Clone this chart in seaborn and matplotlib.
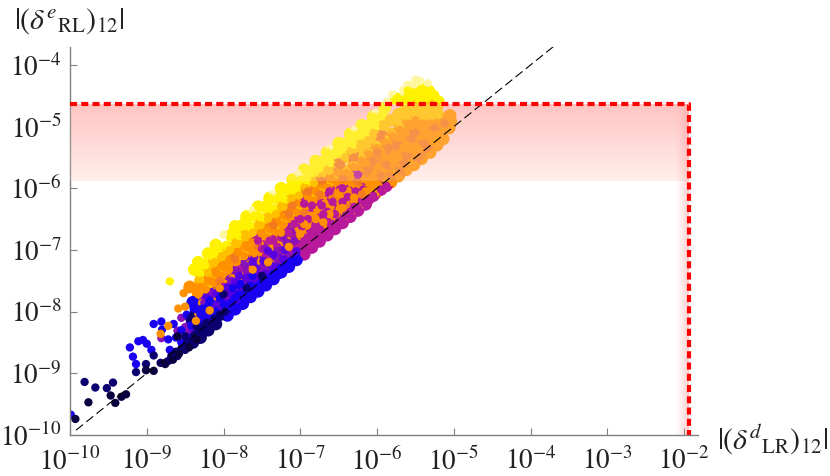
import numpy as np
import pandas as pd
import matplotlib
matplotlib.use("Agg")
import matplotlib.pyplot as plt
import seaborn as sns

# all points are (log10 x, log10 y)
pale_pts = [(-8.0,-6.75),(-7.62,-6.36),(-7.36,-6.1),(-7.02,-5.76),(-6.62,-5.36),(-6.3,-5.06),(-6.02,-4.78),
            (-5.87,-4.6),(-5.8,-4.48),(-5.66,-4.41),(-5.6,-4.32),(-5.52,-4.32),(-5.44,-4.26),(-5.34,-4.3),(-5.5,-4.24)]
yellow_pts = [(-8.7,-7.51),(-8.38,-7.32),(-8.33,-7.2),(-8.3,-7.38),(-8.24,-7.25),(-8.2,-7.06),(-8.14,-7.12),(-8.1,-6.92),
              (-8.05,-7.05),(-7.95,-6.95),(-7.9,-6.76),(-7.85,-6.62),(-7.8,-6.78),(-7.75,-6.6),(-7.7,-6.46),(-7.65,-6.64),
              (-7.6,-6.44),(-7.55,-6.3),(-7.5,-6.5),(-7.45,-6.3),(-7.4,-6.16),(-7.35,-6.36),(-7.3,-6.16),(-7.25,-6.0),
              (-7.2,-6.2),(-7.15,-6.02),(-7.1,-5.86),(-7.05,-6.05),(-7.0,-5.86),(-6.95,-5.7),(-6.9,-5.9),(-6.85,-5.72),
              (-6.8,-5.56),(-6.75,-5.75),(-6.7,-5.57),(-6.65,-5.42),(-6.6,-5.6),(-6.55,-5.42),(-6.5,-5.27),(-6.45,-5.46),
              (-6.4,-5.28),(-6.35,-5.12),(-6.3,-5.3),(-6.25,-5.12),(-6.2,-4.98),(-6.15,-5.17),(-6.1,-4.98),(-6.05,-4.84),
              (-6.0,-5.0),(-5.95,-4.82),(-5.9,-4.7),(-5.75,-4.55),(-5.65,-4.6),(-5.55,-4.55),(-5.45,-4.6),(-5.35,-4.55),
              (-5.27,-4.5),(-5.2,-4.6),(-5.6,-4.42),(-5.5,-4.45),(-5.4,-4.4),(-5.33,-4.42)]
gold_pts = [(-8.3,-7.5),(-8.28,-7.62),(-8.2,-7.38),(-8.18,-7.55),(-8.12,-7.2),(-8.1,-7.42),(-8.02,-7.1),(-8.0,-7.3),
            (-7.92,-7.0),(-7.9,-7.18),(-7.82,-6.9),(-7.8,-7.1),(-7.72,-6.78),(-7.7,-7.0),(-7.62,-6.72),(-7.6,-6.9),
            (-7.52,-6.6),(-7.5,-6.78),(-7.42,-6.5),(-7.4,-6.7),(-7.32,-6.42),(-7.3,-6.6),(-7.22,-6.3),(-7.2,-6.5),
            (-7.12,-6.2),(-7.1,-6.4),(-7.02,-6.12),(-7.0,-6.3),(-6.92,-6.0),(-6.9,-6.2),(-6.82,-5.92),(-6.8,-6.1),
            (-6.72,-5.8),(-6.7,-6.0),(-6.62,-5.72),(-6.6,-5.9),(-6.52,-5.62),(-6.5,-5.8),(-6.42,-5.5),(-6.4,-5.72),
            (-6.32,-5.42),(-6.3,-5.62),(-6.22,-5.32),(-6.2,-5.5),(-6.12,-5.22),(-6.1,-5.42),(-6.02,-5.12),(-6.0,-5.3),
            (-5.92,-5.0),(-5.9,-5.2),(-5.82,-4.9),(-5.8,-5.12),(-5.72,-4.8),(-5.7,-5.0),(-5.62,-4.72),(-5.6,-4.9),
            (-5.52,-4.66),(-5.5,-4.82),(-5.42,-4.7),(-5.4,-4.88),(-5.32,-4.66),(-5.3,-4.85),(-5.22,-4.68),(-5.2,-4.82)]
orange_pts = [(-8.52,-7.7),(-8.44,-7.6),(-8.59,-7.95),(-8.5,-7.92),(-8.33,-8.05),(-8.3,-7.6),(-8.33,-7.72),(-8.28,-7.86),
              (-8.2,-7.5),(-8.23,-7.64),(-8.18,-7.78),(-8.1,-7.38),(-8.13,-7.52),(-8.08,-7.68),(-8.11,-7.82),
              (-8.0,-7.28),(-8.03,-7.42),(-7.98,-7.55),(-8.01,-7.7),(-7.9,-7.18),(-7.93,-7.32),(-7.88,-7.46),(-7.91,-7.6),
              (-7.8,-7.06),(-7.83,-7.2),(-7.78,-7.36),(-7.81,-7.48),(-7.7,-6.96),(-7.73,-7.1),(-7.68,-7.24),(-7.71,-7.38),
              (-7.6,-6.88),(-7.63,-7.0),(-7.58,-7.15),(-7.61,-7.28),(-7.5,-6.76),(-7.53,-6.9),(-7.48,-7.05),(-7.51,-7.2),
              (-7.4,-6.66),(-7.43,-6.8),(-7.38,-6.95),(-7.41,-7.08),(-7.3,-6.55),(-7.33,-6.7),(-7.28,-6.85),(-7.31,-7.0),
              (-7.2,-6.46),(-7.23,-6.6),(-7.18,-6.75),(-7.21,-6.9),(-7.1,-6.36),(-7.13,-6.5),(-7.08,-6.65),(-7.11,-6.78),
              (-7.0,-6.25),(-7.03,-6.4),(-6.98,-6.55),(-7.01,-6.68),(-6.9,-6.15),(-6.93,-6.3),(-6.88,-6.45),(-6.91,-6.6),
              (-6.8,-6.05),(-6.83,-6.2),(-6.78,-6.35),(-6.81,-6.48),(-6.7,-5.95),(-6.73,-6.1),(-6.68,-6.25),(-6.71,-6.38),
              (-6.6,-5.85),(-6.63,-6.0),(-6.58,-6.15),(-6.61,-6.3),(-6.5,-5.75),(-6.53,-5.9),(-6.48,-6.05),(-6.51,-6.2),
              (-6.49,-6.35),(-6.52,-6.48),(-6.4,-5.75),(-6.43,-5.9),(-6.38,-6.05),(-6.41,-6.2),(-6.39,-6.35),(-6.42,-6.46),
              (-6.3,-5.65),(-6.33,-5.8),(-6.28,-5.95),(-6.31,-6.1),(-6.29,-6.25),(-6.32,-6.36),(-6.2,-5.55),(-6.23,-5.7),
              (-6.18,-5.85),(-6.21,-6.0),(-6.19,-6.15),(-6.22,-6.27),(-6.1,-5.45),(-6.13,-5.6),(-6.08,-5.75),(-6.11,-5.9),
              (-6.09,-6.05),(-6.12,-6.17),(-6.0,-5.35),(-6.03,-5.5),(-5.98,-5.65),(-6.01,-5.8),(-5.99,-5.95),(-6.02,-6.08),
              (-5.9,-5.25),(-5.93,-5.4),(-5.88,-5.55),(-5.91,-5.7),(-5.89,-5.85),(-5.92,-5.98),(-5.8,-5.15),(-5.83,-5.3),
              (-5.78,-5.45),(-5.81,-5.6),(-5.79,-5.75),(-5.82,-5.9),(-5.7,-5.05),(-5.73,-5.2),(-5.68,-5.35),(-5.71,-5.5),
              (-5.69,-5.65),(-5.72,-5.8),(-5.6,-4.95),(-5.63,-5.1),(-5.58,-5.25),(-5.61,-5.4),(-5.59,-5.55),(-5.62,-5.7),
              (-5.5,-4.9),(-5.53,-5.0),(-5.48,-5.15),(-5.51,-5.3),(-5.49,-5.45),(-5.52,-5.62),(-5.4,-4.95),(-5.43,-5.05),
              (-5.38,-5.2),(-5.41,-5.35),(-5.42,-5.52),(-5.3,-4.95),(-5.33,-5.1),(-5.28,-5.25),(-5.31,-5.42),(-5.2,-4.95),
              (-5.23,-5.1),(-5.22,-5.3),(-5.1,-4.88),(-5.13,-5.0),(-5.14,-5.2),(-5.04,-4.92),(-5.06,-5.02),(-5.05,-4.82)]
dark_orange_pts = [(-7.85,-7.15),(-7.55,-6.95),(-7.35,-6.6),(-7.15,-6.42),(-6.95,-6.4),(-6.75,-6.1),(-6.55,-6.12),(-6.45,-5.85),
                   (-6.25,-5.9),(-6.05,-5.55),(-5.95,-5.8),(-5.85,-5.35),(-5.65,-5.6),(-5.55,-5.2),(-5.35,-5.35),(-7.65,-7.22),
                   (-6.85,-6.52),(-6.35,-6.3),(-8.05,-7.5)]
magenta_pts = [(-7.2,-7.05),(-7.12,-7.0),(-7.05,-6.92),(-7.0,-6.98),(-6.95,-6.8),(-6.9,-6.88),(-6.85,-6.72),(-6.8,-6.8),
               (-6.75,-6.62),(-6.7,-6.72),(-6.65,-6.52),(-6.6,-6.62),(-6.55,-6.42),(-6.5,-6.54),(-6.45,-6.5),(-6.4,-6.42),
               (-6.35,-6.38),(-6.3,-6.3),(-6.25,-6.32),(-6.2,-6.2),(-6.12,-6.18),(-6.05,-6.12),(-7.1,-6.75),(-6.98,-6.62),
               (-6.8,-6.58),(-6.65,-6.38),(-6.45,-6.22),(-7.3,-6.95),(-7.45,-7.1),(-7.62,-7.2),(-7.8,-7.32),(-8.0,-7.6),
               (-6.28,-6.05),(-5.95,-6.02),(-5.88,-5.96),(-7.25,-6.8),(-7.08,-6.58),(-6.9,-6.5),(-6.72,-6.28),(-6.58,-6.22),
               (-6.38,-6.14),(-6.18,-6.02),(-7.5,-6.98),(-7.35,-6.85),(-6.62,-6.05),(-6.85,-6.28),
               (-6.95,-7.07),(-6.85,-6.96),(-6.75,-6.86),(-6.65,-6.76),(-6.55,-6.66),(-6.45,-6.56),(-6.35,-6.46),(-6.25,-6.36),(-6.15,-6.26)]
purple_pts = [(-8.81,-8.43),(-8.6,-8.31),(-8.5,-8.25),(-8.4,-8.12),(-8.3,-8.0),(-8.15,-7.95),(-8.05,-7.85),(-7.95,-7.75),
              (-7.85,-7.68),(-7.75,-7.55),(-7.68,-7.45),(-7.58,-7.4),(-7.48,-7.28),(-7.42,-7.2),(-7.32,-7.12),(-7.25,-7.0),
              (-7.18,-6.88),(-7.08,-6.85),(-8.2,-8.1),(-8.0,-7.95),(-7.55,-7.5),(-7.38,-7.32),(-7.28,-7.22),(-7.15,-7.1),
              (-8.45,-8.35),(-7.7,-7.35),(-7.9,-7.5),(-8.55,-8.1),(-7.82,-7.35),(-7.6,-7.12),(-7.45,-6.98),(-7.22,-6.78),
              (-8.15,-7.72),(-8.25,-7.85),(-7.72,-7.25),(-7.52,-7.3),(-7.3,-7.02),(-7.12,-6.7)]
violet_pts = [(-8.4,-8.28),(-8.3,-8.12),(-8.22,-8.0),(-8.12,-7.88),(-8.05,-7.98),(-7.98,-7.85),(-7.9,-7.72),(-7.82,-7.8),
              (-7.75,-7.68),(-7.68,-7.6),(-7.6,-7.52),(-7.52,-7.42),(-7.45,-7.38),(-7.38,-7.25),(-7.3,-7.28),(-7.22,-7.15),
              (-8.2,-7.78),(-8.1,-7.7),(-7.95,-7.6),(-7.85,-7.52),(-7.7,-7.45),(-7.58,-7.3),(-7.48,-7.18),(-7.35,-7.08),
              (-8.05,-7.62),(-7.8,-7.42),(-7.62,-7.2),(-7.42,-7.02),(-7.2,-7.0),(-7.05,-7.02)]
blue_pts = [(-9.99,-9.67),(-9.18,-8.73),(-9.14,-8.85),(-9.22,-8.58),(-9.11,-8.48),(-9.05,-8.46),(-9.0,-8.52),(-8.94,-8.62),
            (-8.91,-8.2),(-8.81,-8.16),(-8.8,-8.29),(-8.72,-8.45),(-8.62,-8.42),(-8.65,-8.2),(-8.55,-8.3),(-8.48,-8.05),
            (-8.42,-8.22),(-8.36,-7.96),(-8.3,-8.2),(-8.25,-8.08),(-8.2,-7.9),(-8.15,-8.1),(-8.1,-8.0),(-8.05,-7.78),
            (-8.0,-7.88),(-7.95,-7.95),(-7.9,-7.85),(-7.85,-7.78),(-7.8,-7.72),(-7.75,-7.75),(-7.7,-7.68),(-7.65,-7.58),
            (-7.6,-7.65),(-7.55,-7.58),(-7.5,-7.5),(-7.45,-7.52),(-7.4,-7.45),(-7.35,-7.38),(-7.3,-7.38),(-7.25,-7.3),
            (-7.2,-7.25),(-7.12,-7.18),(-8.7,-8.62),(-8.55,-8.5),(-8.45,-8.42),(-8.3,-8.05),(-8.18,-7.82),(-8.02,-7.7),
            (-7.88,-7.62),(-7.78,-7.55),(-7.62,-7.42),(-8.4,-7.85),(-8.28,-7.95),
            (-7.95,-8.06),(-7.85,-7.96),(-7.75,-7.87),(-7.65,-7.76),(-7.55,-7.67),(-7.45,-7.57),(-7.35,-7.47),(-7.25,-7.36),
            (-7.15,-7.27),(-7.05,-7.16)]
navy_pts = [(-9.81,-9.14),(-9.67,-9.23),(-9.52,-9.24),(-9.44,-9.15),(-9.14,-8.98),(-9.01,-8.85),(-8.91,-8.71),(-8.82,-8.83),
            (-8.72,-8.8),(-8.68,-8.72),(-8.62,-8.65),(-8.55,-8.6),(-8.48,-8.52),(-8.5,-8.4),(-8.38,-8.38),(-8.3,-8.32),
            (-8.25,-8.22),(-8.42,-8.1),(-8.22,-8.18),(-8.12,-8.12),(-8.05,-8.05),(-7.98,-8.0),(-8.0,-7.72),(-8.35,-8.25),
            (-8.2,-8.3),(-8.1,-8.2),(-8.3,-8.42),(-8.4,-8.5),(-8.5,-8.62),(-8.6,-8.72),(-7.7,-7.62),(-7.5,-7.42)]
dark_pts = [(-9.93,-9.74),(-9.76,-9.47),(-9.47,-9.36),(-9.41,-9.48),(-9.33,-9.38),(-9.27,-9.34),(-9.01,-8.95),(-8.91,-8.96),
            (-8.76,-8.85),(-8.66,-8.78),(-8.58,-8.68),(-8.45,-8.58),(-8.35,-8.45),(-8.6,-8.4)]
top_orange_pts = [(-8.82,-8.36),(-8.72,-8.23),(-8.36,-8.15),(-8.05,-7.62),(-7.6,-7.05),(-7.25,-6.72),(-7.62,-7.32),
                  (-7.0,-6.74),(-6.8,-6.5),(-6.62,-6.42),(-6.45,-6.32),(-6.3,-6.15),(-6.15,-6.05),(-7.15,-6.95),(-6.95,-6.58),
                  (-7.42,-7.2),(-8.18,-7.98),(-6.5,-6.1),(-6.7,-6.55)]
top_magenta_pts = [(-7.0,-6.5),(-6.7,-6.42),(-7.4,-6.85),(-6.45,-6.0),(-7.15,-6.72),(-6.95,-6.25),(-7.55,-6.85),(-6.25,-5.78)]
top_amber_pts = [(-6.3,-5.5),(-6.12,-5.72),(-6.0,-5.42),(-5.88,-5.62),(-5.75,-5.3),(-5.62,-5.48),(-5.5,-5.1),(-5.38,-5.28),
                 (-5.25,-5.02),(-5.7,-5.72),(-5.95,-5.15),(-6.5,-5.62),(-6.72,-5.88),(-6.9,-6.05),(-7.1,-6.28),(-5.12,-4.95),
                 (-5.45,-5.5),(-6.2,-6.1),(-5.82,-5.82)]

# drawing order, later groups sit on top
layers = [("pale", pale_pts), ("yellow", yellow_pts), ("gold", gold_pts), ("orange", orange_pts),
          ("dark_orange", dark_orange_pts), ("magenta", magenta_pts), ("purple", purple_pts), ("violet", violet_pts),
          ("blue", blue_pts), ("navy", navy_pts), ("dark", dark_pts), ("orange", top_orange_pts),
          ("magenta", top_magenta_pts), ("dark_orange", top_amber_pts)]
palette = {"pale": "#fff6a0", "yellow": "#fff200", "gold": "#ffc000", "orange": "#ff9000", "dark_orange": "#f47a20",
           "magenta": "#b8189a", "purple": "#8a10b8", "violet": "#5a00e0", "blue": "#1a00f0", "navy": "#0c0070", "dark": "#0a0040"}

rows = []
for name, pts in layers:
    arr = 10.0 ** np.array(pts)
    rows.append(pd.DataFrame({"x": arr[:, 0], "y": arr[:, 1], "group": name}))
df = pd.concat(rows, ignore_index=True)

y_limit = 2.3e-5
y_fade = 1.3e-6
x_limit = 1.15e-2
x_range = (1e-10, 10 ** -1.82)
y_range = (1e-10, 10 ** -3.71)

sns.set_style("white")
plt.rcParams["font.family"] = ["STIXGeneral", "DejaVu Sans"]
plt.rcParams["mathtext.fontset"] = "stix"

fig = plt.figure(figsize=(8.3, 4.76), dpi=100)
ax = fig.add_axes([70 / 830, 1 - 435 / 476, 628 / 830, 388 / 476])
# wider copies underneath close the gaps in the dense part of the cloud
dense = df[(df["x"] > 10 ** -8.45) & (~df["group"].isin(["dark", "pale"]))]
sns.scatterplot(data=dense, x="x", y="y", hue="group", palette=palette, s=85, linewidth=0, legend=False, ax=ax, zorder=2)
sns.scatterplot(data=df, x="x", y="y", hue="group", palette=palette, s=36, linewidth=0, legend=False, ax=ax, zorder=2.1)
ax.set_xscale("log")
ax.set_yscale("log")
ax.set_xlim(x_range)
ax.set_ylim(y_range)
ax.set_xlabel("")
ax.set_ylabel("")


def x_frac(v):
    return np.log10(v / x_range[0]) / np.log10(x_range[1] / x_range[0])


def y_frac(v):
    return np.log10(v / y_range[0]) / np.log10(y_range[1] / y_range[0])


# pink fade behind the points, thin veil over them
fade_h = np.zeros((64, 1, 4))
t = np.linspace(0, 1, 64)
fade_h[:, 0, 0] = 1
fade_h[:, 0, 1] = fade_h[:, 0, 2] = 0.74 + 0.21 * t
fade_h[:, 0, 3] = 1
band = [0, x_frac(x_limit), y_frac(y_fade), y_frac(y_limit)]
ax.imshow(fade_h, extent=band, transform=ax.transAxes, aspect="auto", zorder=1, origin="upper")
veil = np.array([[[1, 0.9, 0.85, 0.22]]])
ax.imshow(veil, extent=band, transform=ax.transAxes, aspect="auto", zorder=3)
fade_v = np.zeros((1, 64, 4))
fade_v[0, :, 0] = 1
fade_v[0, :, 1] = fade_v[0, :, 2] = 0.6
fade_v[0, :, 3] = t ** 1.5 * 0.5
ax.imshow(fade_v, extent=[x_frac(x_limit) - 15 / 628, x_frac(x_limit), 0, y_frac(y_limit)], transform=ax.transAxes,
          aspect="auto", zorder=3)
ax.set_xlim(x_range)
ax.set_ylim(y_range)

ax.plot([1.2e-10, 2.1e-4], [1.2e-10, 2.1e-4], color="black", lw=0.8, dashes=(8, 3.8), zorder=4)
ax.plot([1e-10, x_limit, x_limit], [y_limit, y_limit, 1e-10], color="#ff0000", lw=3, dashes=(1.7, 1.0), zorder=5,
        clip_on=False)

sns.despine(ax=ax)
for side in ["left", "bottom"]:
    ax.spines[side].set_color("#808080")
    ax.spines[side].set_linewidth(1)
ax.set_xticks([10.0 ** e for e in range(-10, -1)])
ax.set_yticks([10.0 ** e for e in range(-10, -3)])
ax.minorticks_off()
ax.tick_params(axis="both", which="major", direction="in", length=5, width=0.8, color="#808080",
               labelsize=19.5, labelcolor="#222222", left=True, bottom=True)
ax.tick_params(axis="x", pad=9)
ax.tick_params(axis="y", pad=6)

fig.text(14 / 830, 1 - 29 / 476, r"$|(\delta^{e}{}_{\mathrm{RL}})_{12}|$", fontsize=21.5, color="#222222")
fig.text(717 / 830, 1 - 449 / 476, r"$|(\delta^{d}{}_{\mathrm{LR}})_{12}|$", fontsize=21.5, color="#222222")

fig.savefig("out.png", dpi=100)
